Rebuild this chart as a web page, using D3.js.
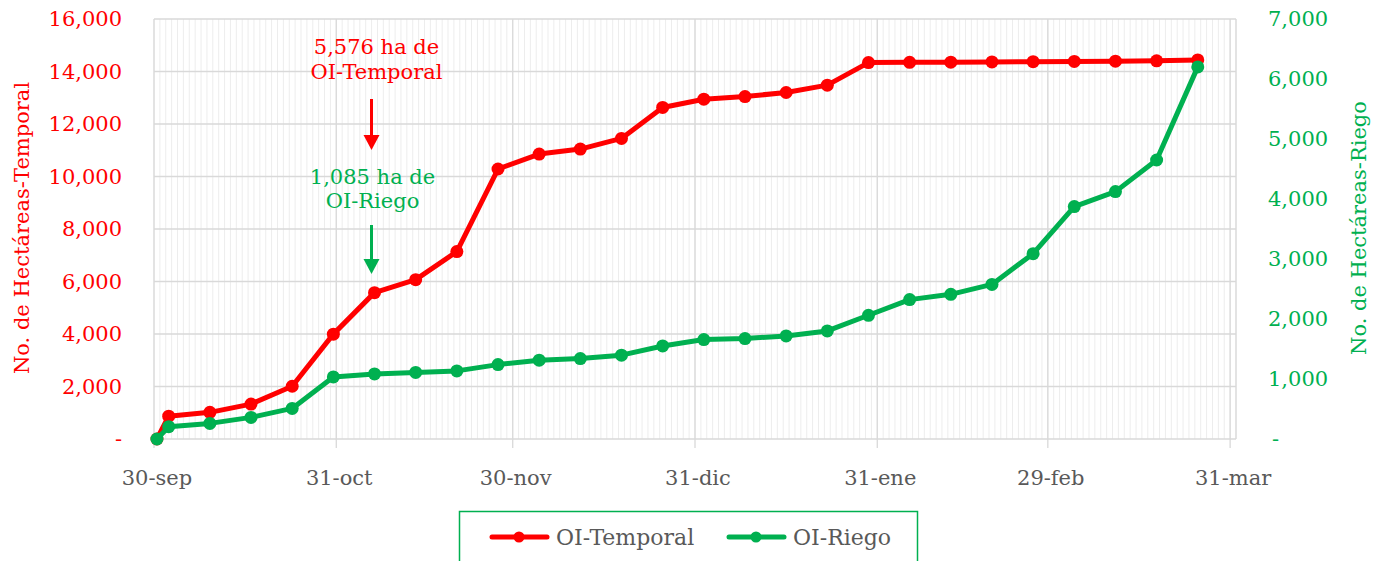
<!DOCTYPE html>
<html>
<head>
<meta charset="utf-8">
<script src="https://cdn.jsdelivr.net/npm/d3@7"></script>
<style>
  body { margin: 0; background: #fff; }
  svg text { font-family: "DejaVu Serif", serif; }
</style>
</head>
<body>
<svg id="chart" width="1379" height="561"></svg>
<script>
// fechas de corte (semanal) y hectáreas acumuladas
const fechas = ["2023-09-30", "2023-10-02", "2023-10-09", "2023-10-16", "2023-10-23", "2023-10-30",
  "2023-11-06", "2023-11-13", "2023-11-20", "2023-11-27", "2023-12-04", "2023-12-11", "2023-12-18",
  "2023-12-25", "2024-01-01", "2024-01-08", "2024-01-15", "2024-01-22", "2024-01-29", "2024-02-05",
  "2024-02-12", "2024-02-19", "2024-02-26", "2024-03-04", "2024-03-11", "2024-03-18", "2024-03-25"];
const temporal = [0, 870, 1015, 1330, 2010, 3995, 5576, 6070, 7140, 10285, 10855, 11045, 11450,
  12630, 12945, 13045, 13200, 13480, 14340, 14350, 14355, 14365, 14375, 14385, 14395, 14405, 14440];
const riego = [0, 205, 260, 360, 510, 1035, 1085, 1110, 1135, 1240, 1314, 1341, 1397,
  1551, 1657, 1674, 1718, 1801, 2062, 2323, 2411, 2577, 3088, 3874, 4123, 4650, 6202];

const tickFechas = ["2023-09-30", "2023-10-31", "2023-11-30", "2023-12-31", "2024-01-31", "2024-02-29", "2024-03-31"];
const tickEtiquetas = ["30-sep", "31-oct", "30-nov", "31-dic", "31-ene", "29-feb", "31-mar"];
const ticksTemporal = [0, 2000, 4000, 6000, 8000, 10000, 12000, 14000, 16000];
const ticksRiego = [0, 1000, 2000, 3000, 4000, 5000, 6000, 7000];

const rojo = "#FF0000", verde = "#00B050", gris = "#595959";
const fs = 21;
const parse = d3.utcParse("%Y-%m-%d");
const fmt = d3.format(",");
const medioDia = (d) => d3.utcHour.offset(d, 12);

const svg = d3.select("#chart");
const plotL = 154, plotR = 1236, plotT = 19, plotB = 439;

const x = d3.scaleUtc()
  .domain([parse("2023-09-30"), parse("2024-04-01")])
  .range([plotL, plotR]);
const yT = d3.scaleLinear().domain([0, 16000]).range([plotB, plotT]);
const yR = d3.scaleLinear().domain([0, 7000]).range([plotB, plotT]);

// rejilla menor (diaria)
const dias = d3.utcDay.range(parse("2023-09-30"), parse("2024-04-02"));
svg.append("g").selectAll("line").data(dias).join("line")
  .attr("x1", (d) => x(d)).attr("x2", (d) => x(d))
  .attr("y1", plotT).attr("y2", plotB)
  .attr("stroke", "#ededed").attr("stroke-width", 1);

// rejilla horizontal
svg.append("g").selectAll("line").data(ticksTemporal).join("line")
  .attr("x1", plotL).attr("x2", plotR)
  .attr("y1", (d) => yT(d)).attr("y2", (d) => yT(d))
  .attr("stroke", "#d9d9d9").attr("stroke-width", 1.3);

// rejilla mayor (meses) + marcas
const mayores = tickFechas.map(parse);
svg.append("g").selectAll("line").data(mayores).join("line")
  .attr("x1", (d) => x(d)).attr("x2", (d) => x(d))
  .attr("y1", plotT).attr("y2", plotB + 9)
  .attr("stroke", "#d9d9d9").attr("stroke-width", 1.3);
svg.append("line")
  .attr("x1", plotR).attr("x2", plotR).attr("y1", plotT).attr("y2", plotB)
  .attr("stroke", "#d9d9d9").attr("stroke-width", 1.3);

// etiquetas eje x
svg.append("g").selectAll("text").data(mayores).join("text")
  .attr("x", (d) => x(medioDia(d)))
  .attr("y", 485)
  .attr("text-anchor", "middle")
  .attr("fill", gris).attr("font-size", fs)
  .text((d, i) => tickEtiquetas[i]);

// eje izquierdo
svg.append("g").selectAll("text").data(ticksTemporal).join("text")
  .attr("x", 122).attr("y", (d) => yT(d))
  .attr("dy", "0.35em").attr("text-anchor", "end")
  .attr("fill", rojo).attr("font-size", fs)
  .text((d) => d === 0 ? "-" : fmt(d));

// eje derecho
svg.append("g").selectAll("text").data(ticksRiego).join("text")
  .attr("x", (d) => d === 0 ? 1272 : 1268).attr("y", (d) => yR(d))
  .attr("dy", "0.35em").attr("text-anchor", "start")
  .attr("fill", verde).attr("font-size", fs)
  .text((d) => d === 0 ? "-" : fmt(d));

// títulos de ejes
svg.append("text")
  .attr("transform", "translate(29,228) rotate(-90)")
  .attr("text-anchor", "middle").attr("fill", rojo).attr("font-size", fs)
  .text("No. de Hectáreas-Temporal");
svg.append("text")
  .attr("transform", "translate(1366,228) rotate(-90)")
  .attr("text-anchor", "middle").attr("fill", verde).attr("font-size", fs)
  .text("No. de Hectáreas-Riego");

// series
const series = [
  { nombre: "OI-Temporal", valores: temporal, y: yT, color: rojo },
  { nombre: "OI-Riego", valores: riego, y: yR, color: verde }
];
const fechasD = fechas.map(parse);

series.forEach((s) => {
  const pts = fechasD.map((d, i) => [x(medioDia(d)), s.y(s.valores[i])]);
  const g = svg.append("g");
  g.append("path")
    .attr("d", d3.line()(pts))
    .attr("fill", "none").attr("stroke", s.color)
    .attr("stroke-width", 5).attr("stroke-linejoin", "round");
  g.selectAll("circle").data(pts).join("circle")
    .attr("cx", (d) => d[0]).attr("cy", (d) => d[1])
    .attr("r", 6.5).attr("fill", s.color);
});

// anotaciones
const xAnot = x(medioDia(parse("2023-11-06"))) - 3;
function flecha(y1, y2, color) {
  svg.append("line")
    .attr("x1", xAnot).attr("x2", xAnot).attr("y1", y1).attr("y2", y2 - 14)
    .attr("stroke", color).attr("stroke-width", 3);
  svg.append("path")
    .attr("d", `M${xAnot - 8},${y2 - 15} L${xAnot + 8},${y2 - 15} L${xAnot},${y2} Z`)
    .attr("fill", color);
}
const anotT = svg.append("text").attr("text-anchor", "middle").attr("fill", rojo).attr("font-size", fs);
anotT.append("tspan").attr("x", xAnot + 5).attr("y", 54).text(`${fmt(temporal[6])} ha de`);
anotT.append("tspan").attr("x", xAnot + 5).attr("y", 79).text("OI-Temporal");
flecha(99, 150, rojo);

const anotR = svg.append("text").attr("text-anchor", "middle").attr("fill", verde).attr("font-size", fs);
anotR.append("tspan").attr("x", xAnot + 1).attr("y", 184).text(`${fmt(riego[6])} ha de`);
anotR.append("tspan").attr("x", xAnot + 1).attr("y", 208).text("OI-Riego");
flecha(225, 274, verde);

// leyenda
svg.append("rect")
  .attr("x", 459.5).attr("y", 511.5).attr("width", 458).attr("height", 60)
  .attr("fill", "none").attr("stroke", verde).attr("stroke-width", 1.5);
const leyX = [492, 729];
series.forEach((s, i) => {
  const g = svg.append("g").attr("transform", `translate(${leyX[i]},537)`);
  g.append("line").attr("x1", 0).attr("x2", 55)
    .attr("stroke", s.color).attr("stroke-width", 5).attr("stroke-linecap", "round");
  g.append("circle").attr("cx", 27).attr("r", 5.5).attr("fill", s.color);
  g.append("text").attr("x", 64).attr("y", 0).attr("dy", "0.35em")
    .attr("fill", gris).attr("font-size", 22).text(s.nombre);
});
</script>
</body>
</html>
